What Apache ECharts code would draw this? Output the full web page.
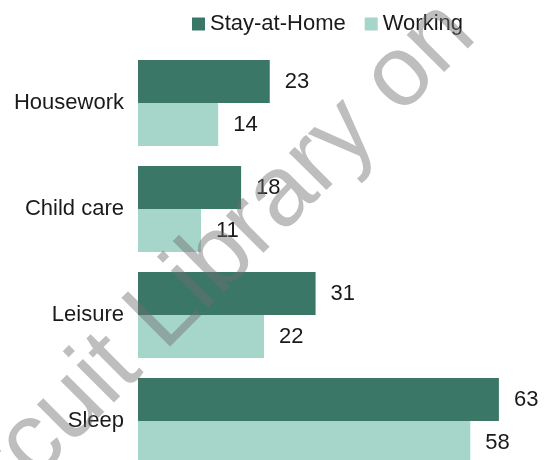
<!DOCTYPE html>
<html>
<head>
<meta charset="utf-8">
<script src="https://cdn.jsdelivr.net/npm/echarts@6/dist/echarts.min.js"></script>
<style>
  html, body { margin: 0; padding: 0; background: #fff; }
  #chart { width: 547px; height: 460px; }
</style>
</head>
<body>
<div id="chart"></div>
<script>
// data
const categories = ['Housework', 'Child care', 'Leisure', 'Sleep']
const stayAtHome = [23, 18, 31, 63]
const working = [14, 11, 22, 58]
const seriesNames = ['Stay-at-Home', 'Working']

const FONT = '"Liberation Sans", Arial, sans-serif'
const DARK = '#3a7767'
const LIGHT = '#a6d5c9'

const myChart = echarts.init(document.getElementById('chart'))

const labelStyle = {
  show: true,
  position: 'right',
  distance: 15,
  color: '#1a1a1a',
  fontSize: 22,
  fontFamily: FONT
}

const options = {
  animation: false,
  legend: {
    left: 187,
    top: 8,
    itemWidth: 13,
    itemHeight: 13,
    itemGap: 19,
    icon: 'rect',
    textStyle: { color: '#1a1a1a', fontSize: 22, fontFamily: FONT },
    data: seriesNames
  },
  grid: {
    left: 138,
    right: 8,
    top: 50,
    height: 424,
    containLabel: false,
    outerBoundsMode: 'none'
  },
  xAxis: {
    type: 'value',
    show: false,
    min: 0,
    max: 70
  },
  yAxis: {
    type: 'category',
    data: categories,
    inverse: true,
    axisLine: { show: false },
    axisTick: { show: false },
    axisLabel: {
      margin: 14,
      color: '#1a1a1a',
      fontSize: 22,
      fontFamily: FONT
    }
  },
  series: [
    {
      name: seriesNames[0],
      type: 'bar',
      data: stayAtHome,
      itemStyle: { color: DARK },
      barGap: '0%',
      barCategoryGap: '19%',
      label: labelStyle
    },
    {
      name: seriesNames[1],
      type: 'bar',
      data: working,
      itemStyle: { color: LIGHT },
      label: labelStyle
    }
  ],
  // watermark lying over the chart
  graphic: [{
    type: 'text',
    x: -40,
    y: 588,
    rotation: Math.PI / 4,
    z: 100,
    silent: true,
    style: {
      text: 'Circuit Library on',
      font: '100px "Liberation Sans", Arial, sans-serif',
      fill: 'rgba(110,110,110,0.45)',
      textAlign: 'left',
      textVerticalAlign: 'bottom'
    }
  }]
}

myChart.setOption(options)
</script>
</body>
</html>
